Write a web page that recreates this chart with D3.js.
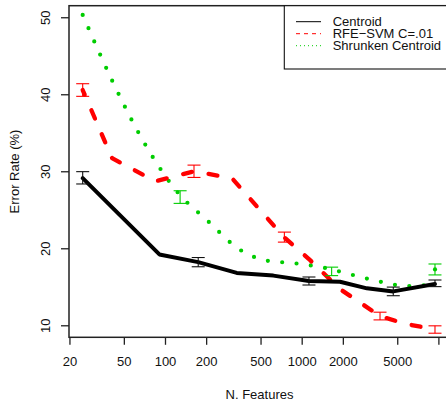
<!DOCTYPE html>
<html>
<head>
<meta charset="utf-8">
<script src="https://cdn.jsdelivr.net/npm/d3@7/dist/d3.min.js"></script>
<style>
  html, body { margin: 0; padding: 0; background: #fff; }
  svg { display: block; font-family: "Liberation Sans", Arial, Helvetica, sans-serif; }
</style>
</head>
<body>
<div id="chart"></div>
<script>
// ---- Data ----
const xTicks = [20, 50, 100, 200, 500, 1000, 2000, 5000, 10000];
const xTickLabels = ["20", "50", "100", "200", "500", "1000", "2000", "5000", ""];
const yTicks = [10, 20, 30, 40, 50];

// Centroid (solid black)
const centroidN = [25, 91, 175, 335, 620, 1130, 1907, 3000, 4677, 9443];
const centroidV = [29.1, 19.2, 18.2, 16.8, 16.45, 15.75, 15.65, 14.8, 14.4, 15.35];
const centroidBarN = [25, 175, 1130, 4677, 9443];
const centroidBarV = [29.15, 18.2, 15.75, 14.4, 15.45];
const centroidBarSE = [0.8, 0.6, 0.52, 0.56, 0.43];

// RFE-SVM C=.01 (dashed red)
const rfeN = [25, 41, 85, 163, 309, 747, 1130, 1907, 3741, 5700, 9443];
const rfeV = [40.55, 31.7, 28.7, 30.0, 29.1, 21.4, 18.6, 14.7, 11.2, 10.2, 9.45];
const rfeBarN = [25, 163, 747, 3741, 9443];
const rfeBarV = [40.55, 30.0, 21.45, 11.2, 9.45];
const rfeBarSE = [0.82, 0.8, 0.65, 0.5, 0.48];

// Shrunken Centroid (dotted green)
const scN = [25, 41, 71, 122, 207, 354, 554, 893, 1437, 2288, 3675, 5900, 9443];
const scV = [50.3, 41.8, 33.6, 27.4, 23.5, 19.8, 18.4, 18.05, 17.5, 16.6, 15.7, 15.1, 15.3];
const scBarN = [129, 1656, 9443];
const scBarV = [26.65, 17.0, 17.25];
const scBarSE = [0.82, 0.55, 0.71];
const scDotN = [9443];
const scDotV = [17.25];

const legendLabels = ["Centroid", "RFE\u2212SVM C=.01", "Shrunken Centroid"];

// ---- Layout ----
const W = 446, H = 402;
const pLeft = 69, pRight = 450, pTop = 5.7, pBottom = 337.3;

const svg = d3.select("#chart").append("svg").attr("width", W).attr("height", H);

const x = d3.scaleLog().domain([19.85, 12160]).range([pLeft, pRight]);
const y = d3.scaleLinear().domain([8.44, 51.5]).range([pBottom, pTop]);

const RED = "#ff0000", GREEN = "#00cd00", BLACK = "#000000";

// Axes
const xAxis = svg.append("g").attr("transform", `translate(0,${pBottom})`)
  .call(d3.axisBottom(x).tickValues(xTicks).tickSize(7.5).tickSizeOuter(0)
    .tickFormat((d, i) => xTickLabels[i]));
xAxis.select(".domain").remove();
xAxis.selectAll(".tick line").attr("stroke", "#222").attr("stroke-width", 1.3);
xAxis.selectAll(".tick text").attr("font-size", 13).attr("fill", "#111")
  .attr("y", 0).attr("dy", 0).attr("transform", "translate(0,29)")
  .attr("font-family", "Liberation Sans, Arial, sans-serif");

const yAxis = svg.append("g").attr("transform", `translate(${pLeft},0)`)
  .call(d3.axisLeft(y).tickValues(yTicks).tickSize(8).tickSizeOuter(0));
yAxis.select(".domain").remove();
yAxis.selectAll(".tick line").attr("stroke", "#222").attr("stroke-width", 1.3);
yAxis.selectAll(".tick text").attr("font-size", 13).attr("fill", "#111")
  .attr("x", 0).attr("dy", 0)
  .attr("text-anchor", "middle")
  .attr("dominant-baseline", "central")
  .attr("transform", "translate(-24,0) rotate(-90)")
  .attr("font-family", "Liberation Sans, Arial, sans-serif");

// Box
svg.append("rect").attr("x", pLeft).attr("y", pTop)
  .attr("width", pRight - pLeft).attr("height", pBottom - pTop)
  .attr("fill", "none").attr("stroke", "#222").attr("stroke-width", 1.5);

// Axis titles
svg.append("text").attr("x", (pLeft + pRight) / 2).attr("y", 398.5)
  .attr("text-anchor", "middle").attr("font-size", 13).attr("fill", "#111")
  .text("N. Features");
svg.append("text").attr("transform", `translate(14.5,${(pTop + pBottom) / 2}) rotate(-90)`)
  .attr("text-anchor", "middle").attr("dominant-baseline", "central")
  .attr("font-size", 13).attr("fill", "#111")
  .text("Error Rate (%)");

// Lines
const zip = (a, b) => a.map((v, i) => [v, b[i]]);
const plot = svg.append("g");

plot.append("path").datum(zip(scN, scV))
  .attr("d", d3.line().x(d => x(d[0])).y(d => y(d[1])).curve(d3.curveMonotoneX))
  .attr("fill", "none").attr("stroke", GREEN).attr("stroke-width", 4.2)
  .attr("stroke-linecap", "round").attr("stroke-dasharray", "0 14.4");

plot.append("path").datum(zip(rfeN, rfeV))
  .attr("d", d3.line().x(d => x(d[0])).y(d => y(d[1])))
  .attr("fill", "none").attr("stroke", RED).attr("stroke-width", 4.3)
  .attr("stroke-linecap", "round").attr("stroke-linejoin", "round")
  .attr("stroke-dasharray", "9 17").attr("stroke-dashoffset", 4);

plot.append("path").datum(zip(centroidN, centroidV))
  .attr("d", d3.line().x(d => x(d[0])).y(d => y(d[1])))
  .attr("fill", "none").attr("stroke", BLACK).attr("stroke-width", 4)
  .attr("stroke-linecap", "round").attr("stroke-linejoin", "round");

// Error bars
function bars(ns, vs, ses, color) {
  const g = plot.append("g").attr("stroke", color).attr("stroke-width", 1.1).attr("fill", "none");
  ns.forEach((n, i) => {
    const cx = x(n), y1 = y(vs[i] + ses[i]), y2 = y(vs[i] - ses[i]);
    g.append("line").attr("x1", cx).attr("x2", cx).attr("y1", y1).attr("y2", y2);
    g.append("line").attr("x1", cx - 6.5).attr("x2", cx + 6.5).attr("y1", y1).attr("y2", y1);
    g.append("line").attr("x1", cx - 6.5).attr("x2", cx + 6.5).attr("y1", y2).attr("y2", y2);
  });
}
bars(centroidBarN, centroidBarV, centroidBarSE, "#111");
bars(rfeBarN, rfeBarV, rfeBarSE, RED);
bars(scBarN, scBarV, scBarSE, GREEN);

plot.selectAll(".scdot").data(zip(scDotN, scDotV)).enter().append("circle")
  .attr("cx", d => x(d[0])).attr("cy", d => y(d[1])).attr("r", 2.1).attr("fill", GREEN);

// Legend
const lg = svg.append("g");
lg.append("rect").attr("x", 284.3).attr("y", pTop).attr("width", pRight - 284.3).attr("height", 69 - pTop)
  .attr("fill", "#fff").attr("stroke", "#111").attr("stroke-width", 1.1);
const lstyles = [
  { color: BLACK, dash: null },
  { color: RED, dash: "4 4" },
  { color: GREEN, dash: "1 3" }
];
legendLabels.forEach((lab, i) => {
  const ly = 21.7 + i * 12;
  const l = lg.append("line").attr("x1", 296).attr("x2", 321).attr("y1", ly).attr("y2", ly)
    .attr("stroke", lstyles[i].color).attr("stroke-width", 1);
  if (lstyles[i].dash) l.attr("stroke-dasharray", lstyles[i].dash);
  lg.append("text").attr("x", 332.7).attr("y", ly).attr("dominant-baseline", "central")
    .attr("font-size", 13).attr("fill", "#111").text(lab);
});
</script>
</body>
</html>
